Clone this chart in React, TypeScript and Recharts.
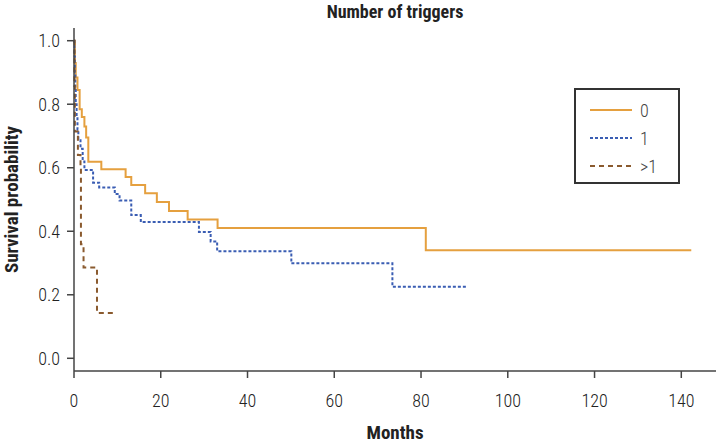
import React from "react";
import { Label, Line, LineChart, XAxis, YAxis } from "recharts";

// Kaplan-Meier step points: [months, survival]
const triggers0: [number, number][] = [
  [0, 1.0], [0.2, 0.93], [0.4, 0.884], [0.8, 0.845], [1.3, 0.784],
  [1.8, 0.76], [2.4, 0.73], [2.8, 0.695], [3.3, 0.619], [6.3, 0.595],
  [11.9, 0.571], [13.2, 0.546], [16.4, 0.52], [19.1, 0.492], [21.9, 0.464],
  [26.2, 0.437], [33.1, 0.41], [81.1, 0.34], [142.3, 0.34],
];
const triggers1: [number, number][] = [
  [0, 1.0], [0.1, 0.95], [0.2, 0.9], [0.3, 0.85], [0.4, 0.8],
  [0.6, 0.76], [0.8, 0.72], [1.0, 0.69], [1.5, 0.66], [2.0, 0.62],
  [2.4, 0.593], [4.4, 0.553], [5.8, 0.538], [9.4, 0.517], [10.5, 0.497],
  [13.2, 0.451], [15.4, 0.429], [28.8, 0.398], [31.5, 0.368], [33.0, 0.337],
  [50.1, 0.299], [73.4, 0.225], [90.4, 0.225],
];
const triggersMore: [number, number][] = [
  [0, 1.0], [0.1, 0.857], [0.2, 0.714], [0.9, 0.64], [1.5, 0.6],
  [1.6, 0.359], [2.2, 0.286], [5.3, 0.143], [9.7, 0.143],
];

const xTicks = [0, 20, 40, 60, 80, 100, 120, 140];
const yTicks = [0, 0.2, 0.4, 0.6, 0.8, 1.0];

const toRows = (pts: [number, number][]) =>
  pts.map(([t, s]) => ({ t, s }));

const series = [
  { name: "0", data: toRows(triggers0), color: "#E5A03F", dash: undefined },
  { name: "1", data: toRows(triggers1), color: "#3A5DB3", dash: "3 2" },
  { name: ">1", data: toRows(triggersMore), color: "#8A5A2E", dash: "5 4" },
];

const FONT =
  "'Roboto Condensed', 'Liberation Sans Narrow', 'DejaVu Sans Condensed', Roboto, sans-serif";
const TEXT = "#222";
const AXIS = "#444";

function LegendBox() {
  return (
    <div
      style={{
        position: "absolute",
        top: 88,
        left: 574,
        width: 106,
        height: 96,
        border: "2px solid #333",
        background: "#fff",
        boxSizing: "border-box",
        padding: "6px 0 0 14px",
        fontSize: 18,
        fontWeight: 300,
        color: "#444",
      }}
    >
      {series.map((s) => (
        <div
          key={s.name}
          style={{ display: "flex", alignItems: "center", height: 28 }}
        >
          <svg width={42} height={6} style={{ marginRight: 8 }}>
            <line
              x1={0}
              y1={3}
              x2={42}
              y2={3}
              stroke={s.color}
              strokeWidth={2}
              strokeDasharray={s.dash}
            />
          </svg>
          <span>{s.name}</span>
        </div>
      ))}
    </div>
  );
}

export default function App() {
  return (
    <div
      style={{
        position: "absolute",
        left: 0,
        top: 0,
        width: 716,
        height: 444,
        background: "#fff",
        fontFamily: FONT,
      }}
    >
      <div
        style={{
          position: "absolute",
          top: 0,
          left: 74,
          width: 642,
          textAlign: "center",
          fontSize: 18,
          fontWeight: 700,
          color: TEXT,
          lineHeight: "24px",
        }}
      >
        Number of triggers
      </div>
      <LineChart
        width={716}
        height={444}
        margin={{ top: 28, right: 0, bottom: 0, left: 0 }}
      >
        <XAxis
          type="number"
          dataKey="t"
          domain={[0, 148]}
          ticks={xTicks}
          allowDuplicatedCategory={false}
          height={73}
          stroke={AXIS}
          strokeWidth={1.5}
          tickSize={7}
          tickMargin={16}
          tick={{ fill: TEXT, fontSize: 18, fontWeight: 300, fontFamily: FONT }}
        >
          <Label
            value="Months"
            position="insideBottom"
            offset={5}
            style={{ fontSize: 19, fontWeight: 700, fill: TEXT, fontFamily: FONT }}
          />
        </XAxis>
        <YAxis
          type="number"
          domain={[-0.04, 1.04]}
          ticks={yTicks}
          width={74}
          stroke={AXIS}
          strokeWidth={1.5}
          tickSize={7}
          tickMargin={7}
          tickFormatter={(v: number) => v.toFixed(1)}
          tick={{ fill: TEXT, fontSize: 18, fontWeight: 300, fontFamily: FONT }}
        >
          <Label
            value="Survival probability"
            angle={-90}
            position="center"
            dx={-26}
            style={{ fontSize: 19, fontWeight: 700, fill: TEXT, fontFamily: FONT, textAnchor: "middle" }}
          />
        </YAxis>
        {series.map((s) => (
          <Line
            key={s.name}
            name={s.name}
            data={s.data}
            dataKey="s"
            type="stepAfter"
            stroke={s.color}
            strokeWidth={2}
            strokeDasharray={s.dash}
            dot={false}
            activeDot={false}
            isAnimationActive={false}
          />
        ))}
      </LineChart>
      <LegendBox />
    </div>
  );
}
